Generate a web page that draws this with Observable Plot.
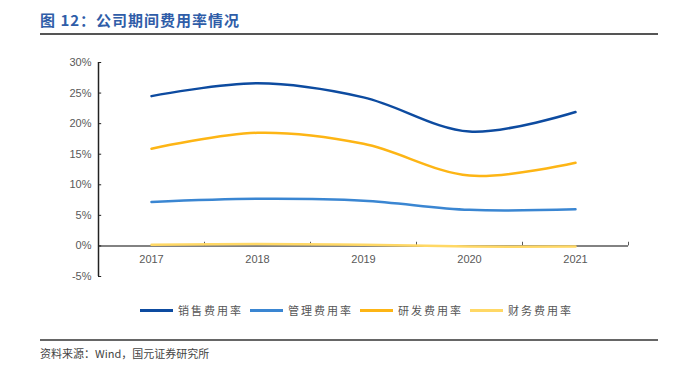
<!DOCTYPE html>
<html><head><meta charset="utf-8">
<script src="https://cdn.jsdelivr.net/npm/d3@7"></script>
<script src="https://cdn.jsdelivr.net/npm/@observablehq/plot@0.6"></script>
<style>
body{margin:0;background:#fff;}
#wrap{position:relative;width:675px;height:366px;overflow:hidden;font-family:"Noto Sans CJK SC","Noto Sans",sans-serif;}
#title{position:absolute;left:40px;top:9px;font-size:15px;font-weight:bold;color:#2F5DA8;letter-spacing:1px;}
.hr{position:absolute;left:40px;width:618px;height:2px;background:#555;}
#legend{position:absolute;top:302px;left:0;width:675px;height:16px;}
.li{position:absolute;top:0;font-size:11px;color:#555;letter-spacing:2px;line-height:16px;}
.sw{position:absolute;top:7px;width:33px;height:3px;}
#src{position:absolute;left:40px;top:345px;font-size:11px;color:#444;}
#chart{position:absolute;left:0;top:0;}
</style></head>
<body><div id="wrap">
<div id="title">图 12：公司期间费用率情况</div>
<div class="hr" style="top:33px"></div>
<div id="chart"></div>
<div id="legend"></div>
<div class="hr" style="top:339px;height:1.5px;background:#666"></div>
<div id="src">资料来源：Wind，国元证券研究所</div>
</div>
<script>
const years = [2017, 2018, 2019, 2020, 2021];
const seriesNames = ["销售费用率", "管理费用率", "研发费用率", "财务费用率"];
const sales = [0.245, 0.266, 0.243, 0.187, 0.219];
const mgmt = [0.072, 0.077, 0.074, 0.059, 0.060];
const rnd = [0.159, 0.185, 0.167, 0.115, 0.136];
const fin = [0.002, 0.003, 0.002, -0.001, -0.001];
const colors = ["#0D4BA0", "#3A86D2", "#FDB515", "#FFD865"];
const yTicks = [-0.05, 0, 0.05, 0.10, 0.15, 0.20, 0.25, 0.30];

const all = [sales, mgmt, rnd, fin];
const data = [];
all.forEach((arr, si) => arr.forEach((v, i) => data.push({series: seriesNames[si], year: years[i], value: v})));
const bounds = [years[0]-0.5, ...years.map(y => y+0.5)];

const chart = Plot.plot({
  width: 675, height: 300,
  marginLeft: 98, marginRight: 47, marginTop: 62, marginBottom: 24,
  x: {domain: [years[0]-0.5, years[years.length-1]+0.5], axis: null},
  y: {domain: [-0.05, 0.30], axis: null},
  color: {domain: seriesNames, range: colors},
  style: {fontFamily: "Liberation Sans, Arial, sans-serif", fontSize: "11px"},
  marks: [
    Plot.ruleY([0], {x1: bounds[0], x2: bounds[bounds.length-1], stroke: "#595959", strokeWidth: 1.5}),
    Plot.ruleX(bounds.slice(1), {y1: 0, y2: 0.006, stroke: "#595959", strokeWidth: 1}),
    Plot.ruleX([bounds[0]], {y1: -0.05, y2: 0.30, stroke: "#222", strokeWidth: 1.5}),
    Plot.ruleY(yTicks, {x1: bounds[0], x2: bounds[0]+0.03, stroke: "#222", strokeWidth: 1}),
    Plot.text(yTicks, {x: bounds[0], y: d => d, text: d => Math.round(d*100) + "%", textAnchor: "end", dx: -7, fill: "#595959"}),
    Plot.text(years, {x: d => d, y: 0, text: d => String(d), dy: 14, fill: "#595959"}),
    Plot.line(data, {x: "year", y: "value", z: "series", stroke: "series", strokeWidth: 2.5, curve: "catmull-rom"})
  ]
});
document.getElementById("chart").appendChild(chart);

const leg = document.getElementById("legend");
const swX = [140, 250, 360, 470];
seriesNames.forEach((n, i) => {
  const s = document.createElement("div");
  s.className = "sw"; s.style.left = swX[i] + "px"; s.style.background = colors[i];
  leg.appendChild(s);
  const t = document.createElement("div");
  t.className = "li"; t.style.left = (swX[i] + 38) + "px"; t.textContent = n;
  leg.appendChild(t);
});
</script>
</body></html>
